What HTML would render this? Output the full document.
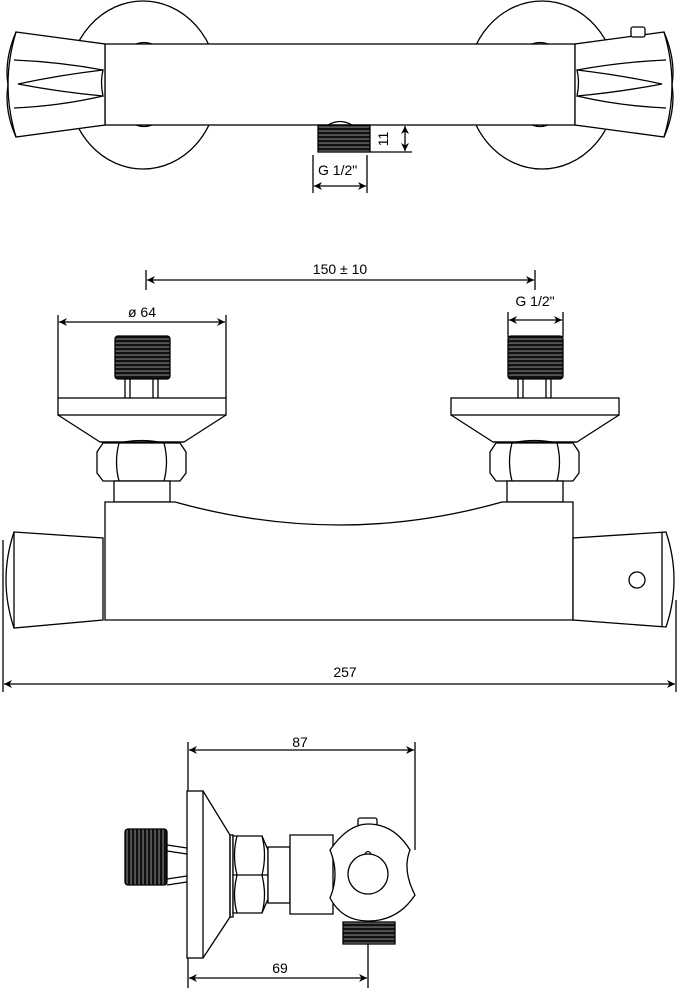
<!DOCTYPE html>
<html><head><meta charset="utf-8"><style>
html,body{margin:0;padding:0;background:#fff}
svg{display:block}
text{font-family:"Liberation Sans",Arial,sans-serif;font-size:14px;fill:#000}
</style></head><body>
<svg width="686" height="1000" viewBox="0 0 686 1000" xmlns="http://www.w3.org/2000/svg">
<defs>
<pattern id="th" width="4" height="4" patternUnits="userSpaceOnUse"><rect width="4" height="4" fill="#111"/><rect y="2.6" width="4" height="0.9" fill="#999"/></pattern>
<pattern id="tv" width="4" height="4" patternUnits="userSpaceOnUse"><rect width="4" height="4" fill="#111"/><rect x="2.6" width="0.9" height="4" fill="#999"/></pattern>
<marker id="a" viewBox="0 0 10 10" refX="10" refY="5" markerWidth="10" markerHeight="8" orient="auto-start-reverse" markerUnits="userSpaceOnUse"><path d="M0,0 L10,5 L0,10 L3,5 Z" fill="#000"/></marker>
</defs>
<g fill="none" stroke="#000" stroke-width="1.3">
<!-- TOP VIEW -->
<ellipse cx="143" cy="85" rx="75" ry="84"/>
<ellipse cx="542" cy="85" rx="75" ry="84"/>
<rect x="105" y="44" width="470" height="81" fill="#fff"/>
<path d="M136,44 q8,-3 16,0 M136,125 q8,3 16,0 M532,44 q8,-3 16,0 M532,125 q8,3 16,0"/>
<path d="M16,32 L105,44 L105,125 L16,137 Q0,85 16,32 Z" fill="#fff"/>
<path d="M16,32 Q4,60 8,85 Q4,110 16,137"/>
<path d="M18,84 Q60,75 103,70 Q100,82 103,96 Q60,92 18,84 Z"/>
<path d="M14,60 Q60,62 103,70 M14,108 Q60,106 103,96"/>
<path d="M664,32 L575,44 L575,125 L664,137 Q680,85 664,32 Z" fill="#fff"/>
<path d="M664,32 Q676,60 672,85 Q676,110 664,137"/>
<path d="M662,84 Q620,75 577,70 Q580,82 577,96 Q620,92 662,84 Z"/>
<path d="M666,60 Q620,62 577,70 M666,108 Q620,106 577,96"/>
<rect x="631" y="27" width="14" height="10" rx="2" fill="#fff"/>
<path d="M328,125 q12,-7 24,0"/>
<rect x="318" y="125" width="52" height="27" fill="url(#th)"/>
<line x1="370" y1="152" x2="412" y2="152"/>
<line x1="405" y1="126" x2="405" y2="151" marker-start="url(#a)" marker-end="url(#a)"/>
<line x1="313" y1="155" x2="313" y2="193"/><line x1="367" y1="155" x2="367" y2="193"/>
<line x1="314" y1="186" x2="366" y2="186" marker-start="url(#a)" marker-end="url(#a)"/>

<!-- FRONT VIEW -->
<line x1="146" y1="270" x2="146" y2="290"/><line x1="535" y1="270" x2="535" y2="290"/>
<line x1="147" y1="280" x2="534" y2="280" marker-start="url(#a)" marker-end="url(#a)"/>
<line x1="58" y1="315" x2="58" y2="398"/><line x1="226" y1="315" x2="226" y2="398"/>
<line x1="59" y1="322" x2="225" y2="322" marker-start="url(#a)" marker-end="url(#a)"/>
<line x1="508" y1="312" x2="508" y2="337"/><line x1="563" y1="312" x2="563" y2="337"/>
<line x1="509" y1="320" x2="562" y2="320" marker-start="url(#a)" marker-end="url(#a)"/>
<g id="fit">
<rect x="115" y="336" width="55" height="43" rx="3" fill="url(#th)"/>
<path d="M125,379 v19 M130,379 v19 M153,379 v19 M158,379 v19"/>
<rect x="58" y="398" width="168" height="17" fill="#fff"/>
<path d="M58,415 L100,442 L184,442 L226,415"/>
<path d="M100,442 h84"/>
<path d="M103,443 L180,443 L186,452 L186,473 L180,481 L103,481 L97,473 L97,452 Z" fill="#fff"/>
<path d="M119,443 Q114,462 119,481 M164,443 Q169,462 164,481 M119,443 Q141,438 164,443 M119,481 Q141,486 164,481"/>
<rect x="114" y="481" width="56" height="21" fill="#fff"/>
</g>
<use href="#fit" transform="translate(393,0)"/>
<path d="M105,502 L175,502 Q340,548 502,502 L573,502 L573,620 L105,620 Z" fill="#fff"/>
<path d="M14,532 L103,538 L103,620 L14,628 Q-2,580 14,532 Z" fill="#fff"/>
<path d="M14,532 V628"/>
<path d="M666,532 L573,538 L573,620 L666,627 Q682,580 666,532 Z" fill="#fff"/>
<path d="M662,532 V627"/>
<circle cx="637" cy="580" r="8"/>
<line x1="3" y1="540" x2="3" y2="692"/><line x1="676" y1="600" x2="676" y2="692"/>
<line x1="4" y1="684" x2="675" y2="684" marker-start="url(#a)" marker-end="url(#a)"/>

<!-- SIDE VIEW -->
<line x1="188" y1="742" x2="188" y2="791"/><line x1="415" y1="742" x2="415" y2="850"/>
<line x1="189" y1="750" x2="414" y2="750" marker-start="url(#a)" marker-end="url(#a)"/>
<rect x="125" y="829" width="42" height="56" rx="3" fill="url(#tv)"/>
<path d="M167,845 L187,848 M167,851 L187,854 M167,879 L187,876 M167,885 L187,882"/>
<rect x="187" y="791" width="16" height="167" fill="#fff"/>
<path d="M203,791 L230,835 L230,917 L203,958"/>
<rect x="230" y="835" width="3" height="82"/>
<path d="M233,836 L262,836 L268,850 L268,899 L262,913 L233,913 Z" fill="#fff"/>
<path d="M233,875 H268 M237,836 Q232,855 237,875 Q232,895 237,913 M262,836 Q267,855 262,875 Q267,895 262,913"/>
<rect x="268" y="847" width="22" height="56" fill="#fff"/>
<path d="M290,835 L333,835 L333,914 L290,914 Z" fill="#fff"/>
<rect x="343" y="922" width="52" height="22" fill="url(#th)"/>
<rect x="358" y="818" width="19" height="8" rx="2" fill="#fff"/>
<path d="M330,850 Q348,824 368,824 Q394,824 410,850 Q402,870 415,895 Q398,921 368,921 Q342,921 330,898 Q340,874 330,850 Z" fill="#fff"/>
<circle cx="368" cy="874" r="20"/>
<path d="M365,854 q3,-5 6,0"/>
<line x1="188" y1="958" x2="188" y2="988"/><line x1="368" y1="944" x2="368" y2="988"/>
<line x1="189" y1="978" x2="367" y2="978" marker-start="url(#a)" marker-end="url(#a)"/>
</g>
<text x="318" y="175">G 1/2"</text>
<text x="0" y="0" transform="translate(388,139) rotate(-90)" text-anchor="middle">11</text>
<text x="340" y="274" text-anchor="middle">150 ± 10</text>
<text x="142" y="317" text-anchor="middle">ø 64</text>
<text x="535" y="306" text-anchor="middle">G 1/2"</text>
<text x="345" y="677" text-anchor="middle">257</text>
<text x="300" y="747" text-anchor="middle">87</text>
<text x="280" y="973" text-anchor="middle">69</text>
</svg>
</body></html>
